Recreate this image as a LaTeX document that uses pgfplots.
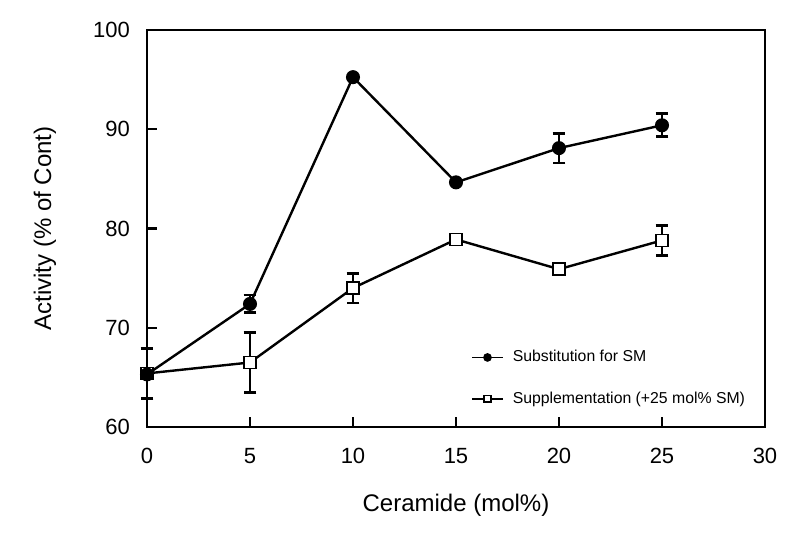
\documentclass[border=0pt]{standalone}
\usepackage{fontspec}
\setmainfont{Liberation Sans}
\usepackage{pgfplots}
\pgfplotsset{compat=1.18}
\usepackage{pgfplotstable}

% ceramide (mol%), activity (% of control), error
\pgfplotstableread{
x  y     e
0  65.3  0
5  72.4  0.9
10 95.25 0
15 84.65 0
20 88.1  1.5
25 90.4  1.15
}\subst

\pgfplotstableread{
x  y     e
0  65.4  2.5
5  66.5  3.05
10 74.0  1.5
15 78.9  0
20 75.9  0
25 78.8  1.5
}\suppl

\begin{document}
\begin{tikzpicture}
\begin{axis}[
  at={(0,0)}, anchor=south west,
  scale only axis, width=309pt, height=198.5pt,
  xmin=0, xmax=30, ymin=60, ymax=100,
  xtick={0,5,...,30}, ytick={60,70,...,100},
  tick pos=left, tick align=inside, major tick length=5pt,
  axis line style={line width=1.2pt},
  tick style={line width=1.2pt, black},
  tick label style={font=\fontsize{11}{13}\selectfont},
  /pgf/number format/assume math mode=true,
  xticklabel style={yshift=-7pt},
  yticklabel style={xshift=-5pt},
  xlabel={Ceramide (mol\%)},
  ylabel={Activity (\% of Cont)},
  label style={font=\fontsize{12}{14}\selectfont},
  xlabel style={at={(axis description cs:0.5,-0.196)}, anchor=center},
  ylabel style={at={(axis description cs:-0.165,0.5)}, anchor=center},
  clip=false,
  legend style={at={(axis description cs:0.524,0.123)}, anchor=west,
    draw=none, fill=none, inner sep=0pt, row sep=9.5pt,
    font=\fontsize{7.9}{9.5}\selectfont,
    /tikz/every odd column/.append style={column sep=2.5pt}},
  legend cell align=left,
  legend image code/.code={%
    \draw[#1, mark=none] (0cm,0cm) -- (0.54cm,0cm);
    \draw[#1, only marks] plot coordinates {(0.27cm,0cm)};},
  legend image post style={mark size=1.7pt, line width=0.9pt},
  reverse legend,
]
\addplot[black, line width=1.2pt, mark=square*, mark size=3pt,
  mark options={fill=white, draw=black, line width=0.8pt},
  error bars/.cd, y dir=both, y explicit,
  error bar style={line width=1.2pt},
  error mark options={rotate=90, mark size=3.2pt, line width=1.4pt}]
  table[x=x, y=y, y error=e] {\suppl};
\addlegendentry{Supplementation (+25 mol\% SM)}

\addplot[black, line width=1.2pt, mark=*, mark size=2.9pt,
  mark options={fill=black},
  error bars/.cd, y dir=both, y explicit,
  error bar style={line width=1.2pt},
  error mark options={rotate=90, mark size=3.2pt, line width=1.4pt}]
  table[x=x, y=y, y error=e] {\subst};
\addlegendentry{Substitution for SM}
\end{axis}
\pgfresetboundingbox
\path (-73.5pt,-55.5pt) rectangle (326.5pt,213.5pt);
\end{tikzpicture}
\end{document}
